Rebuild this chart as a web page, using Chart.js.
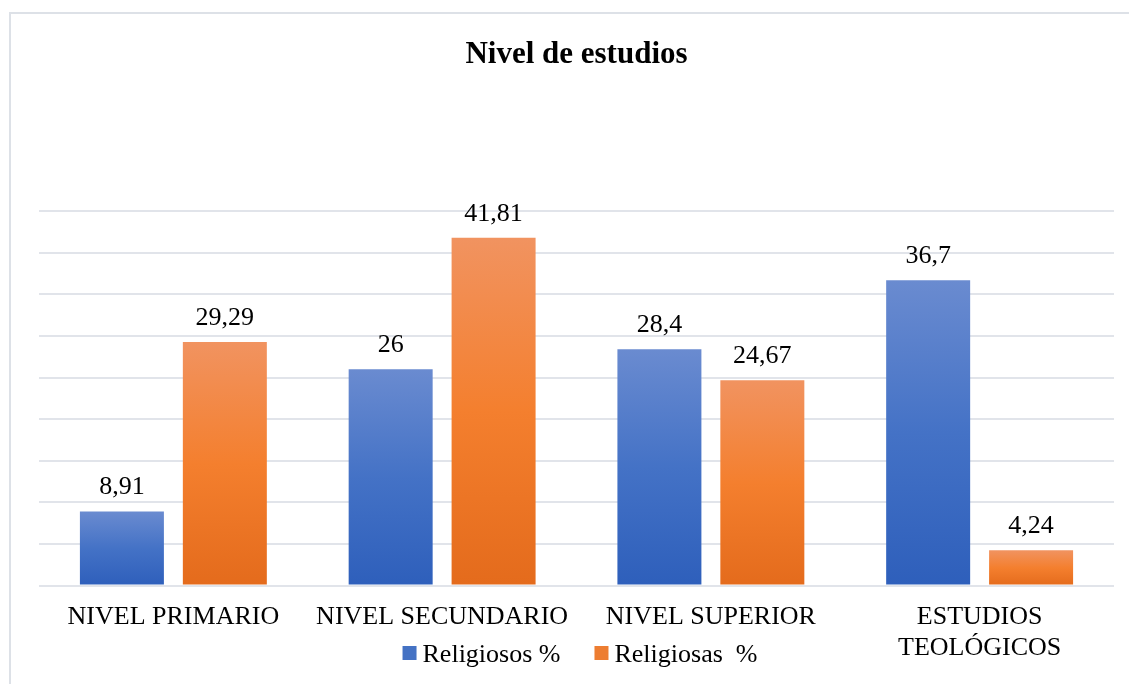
<!DOCTYPE html>
<html>
<head>
<meta charset="utf-8">
<script src="https://cdn.jsdelivr.net/npm/chart.js@4.4.0/dist/chart.umd.min.js"></script>
<style>
  html, body { margin: 0; padding: 0; background: #fff; overflow: hidden; }
  #frame { position: absolute; left: 9px; top: 12px; width: 1300px; height: 900px;
           border-left: 2px solid #dde1e7; border-top: 2px solid #dde1e7; }
  #wrap { position: absolute; left: 0; top: 0; width: 1129px; height: 684px; }
</style>
</head>
<body>
<div id="frame"></div>
<div id="wrap"><canvas id="chart"></canvas></div>
<script>
"use strict";
const categories = ["NIVEL PRIMARIO", "NIVEL SECUNDARIO", "NIVEL SUPERIOR", ["ESTUDIOS", "TEOLÓGICOS"]];
const religiosos = [8.91, 26, 28.4, 36.7];
const religiosas = [29.29, 41.81, 24.67, 4.24];
const seriesNames = ["Religiosos %", "Religiosas  %"];
const FONT = "'Liberation Serif', 'Times New Roman', serif";

function barFill(top, mid, bottom) {
    return (ctx) => {
        const chart = ctx.chart;
        if (!chart.chartArea || ctx.type !== "data") return mid;
        const y = chart.scales.y;
        const g = chart.ctx.createLinearGradient(0, y.getPixelForValue(ctx.raw), 0, y.getPixelForValue(0));
        g.addColorStop(0, top);
        g.addColorStop(0.5, mid);
        g.addColorStop(1, bottom);
        return g;
    };
}

const valueLabels = {
    id: "valueLabels",
    afterDatasetsDraw(chart) {
        const ctx = chart.ctx;
        ctx.save();
        ctx.font = "26px " + FONT;
        ctx.fillStyle = "#000";
        ctx.textAlign = "center";
        ctx.textBaseline = "alphabetic";
        chart.data.datasets.forEach((ds, i) => {
            chart.getDatasetMeta(i).data.forEach((bar, j) => {
                ctx.fillText(String(ds.data[j]).replace(".", ","), bar.x, bar.y - 17);
            });
        });
        ctx.restore();
    }
};

const bottomLegend = {
    id: "bottomLegend",
    afterDraw(chart) {
        const ctx = chart.ctx;
        ctx.save();
        ctx.font = "26px " + FONT;
        ctx.textBaseline = "middle";
        const items = chart.data.datasets.map((ds) => ({ text: ds.label, color: ds.legendColor, w: ctx.measureText(ds.label).width }));
        const box = 14, gap = 6, between = 34;
        const total = items.reduce((s, it) => s + box + gap + it.w, 0) + between * (items.length - 1);
        let x = 580 - total / 2;
        const y = 655;
        items.forEach((it) => {
            ctx.fillStyle = it.color;
            ctx.fillRect(x, y - box / 2 - 2, box, box);
            x += box + gap;
            ctx.fillStyle = "#000";
            ctx.textAlign = "left";
            ctx.fillText(it.text, x, y);
            x += it.w + between;
        });
        ctx.restore();
    }
};

new Chart(document.getElementById("chart"), {
    type: "bar",
    data: {
        labels: categories,
        datasets: [
            {
                label: seriesNames[0],
                data: religiosos,
                backgroundColor: barFill("#6a8bd0", "#4472c6", "#2e5fbb"),
                legendColor: "#4472c4",
                categoryPercentage: 0.766,
                barPercentage: 0.816,
            },
            {
                label: seriesNames[1],
                data: religiosas,
                backgroundColor: barFill("#f19360", "#f47f2e", "#e46b1c"),
                legendColor: "#ed7d31",
                categoryPercentage: 0.766,
                barPercentage: 0.816,
            },
        ],
    },
    options: {
        responsive: true,
        maintainAspectRatio: false,
        animation: false,
        layout: { padding: { left: 39, right: 15, top: 13, bottom: 12 } },
        plugins: {
            legend: { display: false },
            tooltip: { enabled: false },
            title: {
                display: true,
                text: "Nivel de estudios",
                color: "#000",
                font: { family: FONT, size: 31, weight: "bold" },
                padding: { top: 23, bottom: 138 },
            },
        },
        scales: {
            x: {
                grid: { display: false },
                border: { display: false },
                ticks: { color: "#000", font: { family: FONT, size: 26 }, padding: 8, maxRotation: 0, autoSkip: false },
            },
            y: {
                min: 0,
                max: 45,
                ticks: { display: false, stepSize: 5 },
                grid: { color: "#e1e4ea", lineWidth: 2, drawTicks: false },
                border: { display: false },
            },
        },
    },
    plugins: [valueLabels, bottomLegend],
});
</script>
</body>
</html>
